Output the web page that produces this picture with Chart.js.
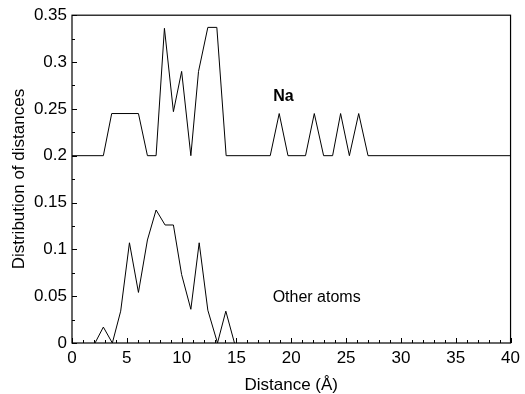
<!DOCTYPE html>
<html>
<head>
<meta charset="utf-8">
<script src="https://cdn.jsdelivr.net/npm/chart.js@4/dist/chart.umd.min.js"></script>
<style>
  html, body { margin: 0; padding: 0; background: #fff; }
  #wrap { width: 525px; height: 394px; }
</style>
</head>
<body>
<div id="wrap"><canvas id="myGraph" width="525" height="394"></canvas></div>
<script>
// Na distance distribution
const naX = [0, 2.86, 3.62, 6.06, 6.88, 7.67, 8.43, 9.25, 10.0, 10.84, 11.54, 12.39, 13.21, 14.06, 18.08, 18.9, 19.7, 21.3, 22.1, 22.95, 23.77, 24.5, 25.3, 26.15, 27.0, 40]
const naY = [0.2, 0.2, 0.245, 0.245, 0.2, 0.2, 0.336, 0.247, 0.29, 0.2, 0.29, 0.337, 0.337, 0.2, 0.2, 0.245, 0.2, 0.2, 0.245, 0.2, 0.2, 0.245, 0.2, 0.245, 0.2, 0.2]
// other atoms
const otherX = [2.1, 2.86, 3.68, 4.44, 5.24, 6.06, 6.88, 7.67, 8.49, 9.25, 10.0, 10.84, 11.6, 12.39, 13.27, 14.03, 14.82]
const otherY = [0, 0.017, 0, 0.034, 0.107, 0.054, 0.11, 0.142, 0.126, 0.126, 0.073, 0.036, 0.107, 0.035, 0, 0.034, 0]

const xMin = 0, xMax = 40, xStep = 5, xMinor = 1
const yMin = 0, yMax = 0.35, yStep = 0.05, yMinor = 0.025

const notes = [
  {text: 'Na', x: 18.35, y: 0.263, bold: true},
  {text: 'Other atoms', x: 18.3, y: 0.048, bold: false}
]

const fontFam = '"Liberation Sans", Arial, sans-serif'

function pts(xs, ys){
  let out = []
  for(let i = 0; i < xs.length; i++) out.push({x: xs[i], y: ys[i]})
  return out
}

// frame, inward ticks and text labels
const framePlugin = {
  id: 'frame',
  afterDraw(chart){
    const ctx = chart.ctx
    const a = chart.chartArea
    const xs = chart.scales.x, ys = chart.scales.y
    ctx.save()
    ctx.strokeStyle = '#000'
    ctx.lineWidth = 1.2
    ctx.strokeRect(a.left, a.top, a.right - a.left, a.bottom - a.top)
    ctx.lineWidth = 1
    ctx.beginPath()
    for(let v = xMin; v <= xMax + 1e-9; v += xMinor){
      const px = Math.round(xs.getPixelForValue(v)) + 0.5
      const major = Math.abs(v / xStep - Math.round(v / xStep)) < 1e-6
      ctx.moveTo(px, a.bottom)
      ctx.lineTo(px, a.bottom - (major ? 5 : 3))
    }
    for(let v = yMin; v <= yMax + 1e-9; v += yMinor){
      const py = Math.round(ys.getPixelForValue(v)) + 0.5
      const major = Math.abs(v / yStep - Math.round(v / yStep)) < 1e-6
      ctx.moveTo(a.left, py)
      ctx.lineTo(a.left + (major ? 5 : 3), py)
    }
    ctx.stroke()
    ctx.fillStyle = '#000'
    ctx.textBaseline = 'middle'
    ctx.textAlign = 'left'
    for(const n of notes){
      ctx.font = (n.bold ? 'bold ' : '') + '16px ' + fontFam
      ctx.fillText(n.text, xs.getPixelForValue(n.x), ys.getPixelForValue(n.y))
    }
    ctx.restore()
  }
}

let myGraph = document.getElementById('myGraph').getContext('2d')
let chart = new Chart(myGraph, {
  type: 'scatter',
  data: {
    datasets: [{
      label: 'Na',
      data: pts(naX, naY),
      showLine: true,
      borderColor: '#000',
      borderWidth: 1,
      pointRadius: 0,
      tension: 0
    }, {
      label: 'Other atoms',
      data: pts(otherX, otherY),
      showLine: true,
      borderColor: '#000',
      borderWidth: 1,
      pointRadius: 0,
      tension: 0
    }]
  },
  plugins: [framePlugin],
  options: {
    responsive: false,
    animation: false,
    layout: {padding: {left: 0, right: 14, top: 14, bottom: 0}},
    plugins: {
      legend: {display: false},
      tooltip: {enabled: false}
    },
    scales: {
      x: {
        type: 'linear',
        min: xMin,
        max: xMax,
        afterFit: s => { s.height = 51 },
        grid: {display: false, drawTicks: false},
        border: {display: false},
        ticks: {
          stepSize: xStep,
          padding: 5,
          color: '#000',
          maxRotation: 0,
          font: {family: fontFam, size: 17}
        },
        title: {
          display: true,
          text: 'Distance (Å)',
          color: '#000',
          padding: {top: 0, bottom: 0},
          font: {family: fontFam, size: 17, lineHeight: 1.0}
        }
      },
      y: {
        type: 'linear',
        min: yMin,
        max: yMax,
        afterFit: s => { s.width = 72 },
        grid: {display: false, drawTicks: false},
        border: {display: false},
        ticks: {
          stepSize: yStep,
          padding: 5,
          color: '#000',
          font: {family: fontFam, size: 17},
          callback: v => String(+v.toFixed(3))
        },
        title: {
          display: true,
          text: 'Distribution of distances',
          color: '#000',
          padding: {top: 9, bottom: 0},
          font: {family: fontFam, size: 17}
        }
      }
    }
  }
})
</script>
</body>
</html>
